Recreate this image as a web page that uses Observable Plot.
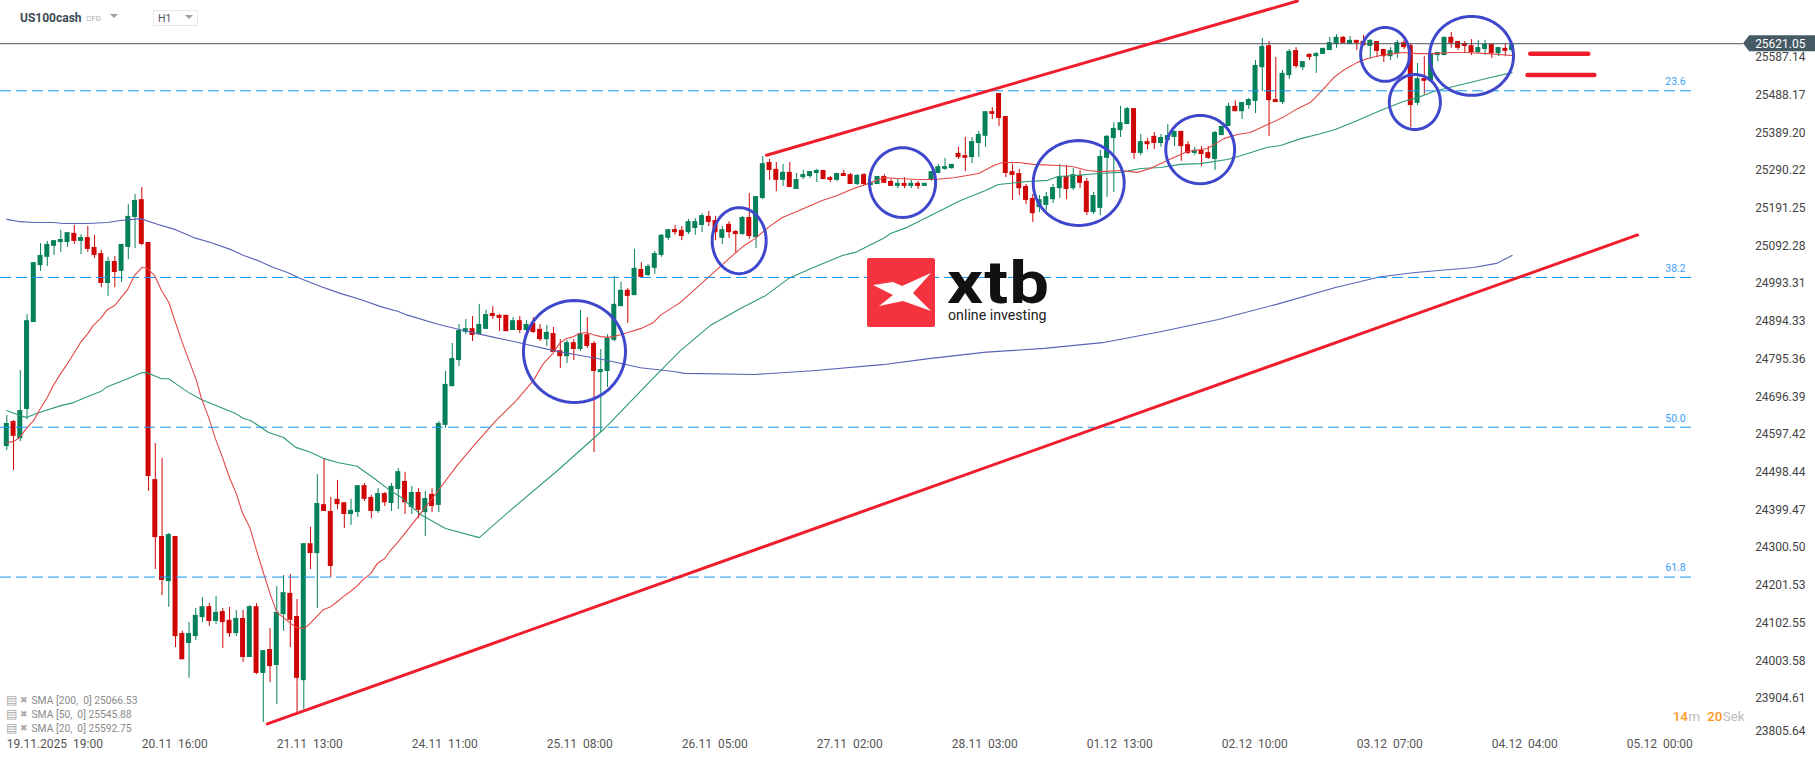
<!DOCTYPE html>
<html>
<head>
<meta charset="utf-8">
<script src="https://cdn.jsdelivr.net/npm/d3@7"></script>
<script src="https://cdn.jsdelivr.net/npm/@observablehq/plot@0.6"></script>
<style>
html,body{margin:0;padding:0;background:#fff;width:1815px;height:761px;overflow:hidden;font-family:Roboto,sans-serif}
#wrap{position:relative;width:1815px;height:761px}
svg text{white-space:pre}
.hd{position:absolute;white-space:pre}
</style>
</head>
<body>
<div id="wrap">
<div id="chart"></div>
<div class="hd" style="left:20px;top:11px;font:700 12px/15px Roboto;color:#3b4a54">US100cash</div>
<div class="hd" style="left:86px;top:13px;font:400 8px/12px Roboto;color:#a9adb0">CFD</div>
<div class="hd" style="left:110px;top:14px;width:0;height:0;border-left:4px solid transparent;border-right:4px solid transparent;border-top:4px solid #9a9fa3"></div>
<div class="hd" style="left:153px;top:10px;width:43px;height:14px;border:1px solid #e6e6e6;border-radius:2px"></div>
<div class="hd" style="left:158px;top:12px;font:400 10.5px/13px Roboto;color:#4a565e">H1</div>
<div class="hd" style="left:185px;top:15px;width:0;height:0;border-left:4px solid transparent;border-right:4px solid transparent;border-top:4px solid #9a9fa3"></div>
<svg class="hd" style="left:867px;top:258px" width="68" height="69" viewBox="0 0 68 69">
<rect width="68" height="69" rx="2" fill="#f4333f"/>
<polygon fill="#fff" points="6,27 26,24 35,28 64,15 46,35 64,53 36,43 12,48 26,37"/>
</svg>
<div class="hd" style="left:947px;top:260px;font:700 60px/46px Roboto;letter-spacing:1px;color:#111;transform:scaleX(1.18);transform-origin:left center">xtb</div>
<div class="hd" style="left:948px;top:307px;font:400 14.2px/17px Roboto;color:#222">online investing</div>
</div>
<script>
const opens = [24562,24628,24583,24660,24889,25039,25061,25090,25100,25100,
25124,25103,25113,25087,25071,24992,25050,25024,25087,25166,
25213,25100,24475,24325,24206,24325,24069,24043,24061,24111,
24140,24101,24127,24104,24069,24109,24006,24140,23964,24027,
23985,24119,24175,24114,23945,24306,24280,24409,24391,24423,
24414,24383,24388,24459,24428,24391,24438,24412,24449,24470,
24401,24441,24388,24436,24407,24618,24720,24789,24863,24873,
24857,24871,24913,24908,24908,24868,24894,24868,24887,24871,
24844,24860,24815,24799,24836,24818,24857,24834,24757,24760,
24842,24931,24974,24960,25029,25013,25032,25066,25111,25134,
25132,25126,25137,25145,25169,25158,25111,25148,25129,25121,
25166,25113,25216,25311,25293,25264,25285,25240,25271,25274,
25282,25290,25271,25264,25282,25279,25253,25279,25250,25253,
25274,25261,25248,25256,25248,25256,25248,25264,25282,25293,
25295,25335,25329,25324,25361,25380,25445,25493,25432,25287,
25282,25248,25216,25192,25198,25213,25242,25274,25242,25277,
25261,25179,25190,25322,25374,25395,25411,25453,25335,25366,
25380,25361,25369,25377,25393,25358,25335,25343,25337,25319,
25382,25406,25459,25445,25461,25472,25561,25619,25477,25469,
25540,25606,25561,25596,25590,25596,25606,25622,25641,25622,
25633,25630,25617,25630,25609,25590,25598,25627,25619,25467,
25532,25527,25593,25593,25641,25630,25625,25619,25601,25609,
25622,25598,25612,25606];
const highs = [24644,24631,24763,24910,25047,25097,25103,25105,25132,25126,
25145,25121,25142,25119,25079,25061,25063,25095,25200,25227,
25245,25100,24570,24531,24333,24325,24075,24098,24135,24164,
24148,24167,24135,24138,24130,24130,24143,24148,24024,24082,
24193,24222,24225,24159,24306,24349,24488,24528,24428,24473,
24414,24423,24459,24465,24433,24451,24441,24465,24504,24494,
24457,24451,24444,24451,24628,24760,24834,24884,24897,24905,
24937,24921,24931,24910,24908,24902,24905,24894,24902,24884,
24881,24876,24844,24842,24844,24921,24902,24839,24818,24857,
25010,24995,24979,25082,25047,25042,25076,25121,25134,25145,
25142,25161,25163,25176,25182,25169,25142,25155,25132,25169,
25229,25221,25327,25319,25311,25306,25311,25282,25290,25287,
25293,25290,25274,25282,25290,25282,25279,25282,25261,25274,
25279,25266,25269,25271,25264,25261,25256,25287,25306,25322,
25306,25351,25377,25377,25393,25445,25456,25493,25432,25306,
25293,25253,25227,25224,25232,25253,25306,25303,25295,25290,
25269,25232,25343,25382,25416,25459,25456,25453,25385,25374,
25390,25385,25411,25393,25393,25366,25351,25353,25353,25393,
25406,25467,25474,25469,25480,25580,25638,25630,25588,25554,
25609,25614,25577,25598,25601,25612,25641,25648,25643,25643,
25633,25646,25635,25630,25609,25614,25633,25633,25625,25572,
25590,25596,25601,25641,25654,25630,25630,25635,25633,25633,
25622,25614,25625,25627];
const lows = [24552,24499,24575,24633,24889,25024,25037,25066,25074,25087,
25095,25068,25074,25058,24981,24958,24981,24995,25055,25084,
25092,24444,24238,24169,24138,24032,24000,23951,24051,24098,
24088,24093,24030,24059,24061,23993,24006,23961,23835,23940,
23882,24075,24032,23861,23869,24238,24135,24391,24217,24396,
24346,24354,24375,24417,24372,24386,24404,24391,24396,24383,
24383,24372,24325,24388,24388,24610,24720,24773,24857,24839,
24857,24871,24897,24865,24865,24868,24860,24865,24860,24839,
24826,24810,24768,24781,24789,24813,24821,24546,24599,24718,
24839,24931,24887,24960,25008,25010,25016,25061,25105,25119,
25105,25121,25119,25126,25142,25105,25095,25111,25071,25119,
25108,25084,25213,25264,25234,25248,25245,25240,25266,25269,
25258,25266,25258,25261,25274,25253,25250,25250,25250,25253,
25256,25248,25242,25242,25242,25240,25248,25261,25282,25290,
25293,25319,25287,25308,25324,25351,25424,25406,25271,25211,
25224,25200,25153,25179,25184,25203,25216,25213,25237,25242,
25171,25174,25171,25219,25232,25377,25411,25319,25329,25345,
25345,25351,25369,25353,25314,25332,25329,25300,25319,25290,
25382,25406,25445,25424,25451,25440,25498,25380,25469,25464,
25530,25559,25554,25580,25546,25596,25606,25612,25625,25622,
25606,25619,25583,25588,25575,25580,25585,25609,25403,25461,
25490,25527,25577,25593,25612,25606,25601,25593,25596,25593,
25585,25590,25590,25601];
const closes = [24623,24589,24657,24894,25047,25066,25095,25105,25108,25126,
25103,25113,25082,25066,24992,25050,25021,25095,25169,25211,
25095,24483,24322,24209,24330,24061,24000,24069,24117,24140,
24101,24125,24098,24069,24109,24006,24140,23964,24024,23982,
24125,24177,24104,23951,24306,24280,24412,24391,24246,24409,
24383,24394,24459,24423,24391,24438,24414,24457,24496,24414,
24441,24394,24425,24404,24623,24726,24794,24868,24873,24855,
24884,24910,24905,24900,24865,24894,24868,24884,24863,24844,
24863,24810,24799,24836,24818,24860,24826,24760,24765,24847,
24937,24974,24958,25032,25008,25037,25071,25119,25134,25126,
25116,25155,25155,25171,25153,25126,25134,25126,25121,25166,
25116,25221,25308,25290,25264,25285,25245,25266,25279,25287,
25290,25266,25264,25282,25274,25253,25277,25253,25258,25274,
25256,25248,25256,25248,25256,25248,25256,25287,25300,25300,
25306,25324,25322,25366,25385,25445,25438,25427,25282,25277,
25242,25211,25176,25213,25221,25245,25274,25240,25279,25256,
25179,25224,25327,25380,25401,25416,25453,25335,25366,25358,
25361,25377,25382,25393,25353,25335,25343,25332,25322,25390,
25406,25459,25445,25469,25477,25567,25617,25474,25469,25546,
25604,25564,25577,25588,25598,25612,25627,25641,25625,25633,
25625,25619,25633,25604,25590,25606,25627,25614,25461,25532,
25525,25596,25601,25641,25625,25612,25617,25601,25614,25622,
25598,25614,25604,25621.05];

const sma20Bar = [0,1,1.9,2.9,4,4.8,5.9,6.9,8,9,9.9,10.9,12,12.8,13.9,14.9,16,16.8,17.9,18.9,20,20.8,21.9,22.9,24,25,26,27.1,28.1,28.8,29.9,30.9,32,33,34,34.9,36,37,38,39.1,40,41,41.9,42.9,44,44.8,45.9,46.9,48,48.8,49.9,50.9,52,52.8,53.9,54.9,56,56.8,57.9,60.7,63.7,66.6,69.6,72.5,75.5,78,79.5,81,81.9,82.9,84,84.8,85.9,86.9,88,89,89.9,90.9,92,93.9,95.8,96.8,98.8,99.8,107.2,109.1,110.9,112.8,114.9,117.3,120.8,123,125.4,127.7,129.9,132,135,137.3,140.3,144,146.2,147.5,149.9,152.1,155.7,158,160.1,162,165,167.5,169.4,171.9,174.9,177.9,180.3,182.3,184.2,186.8,189.1,191.2,193.1,194.6,196.6,198,200.1,201.6,203.5,205.4,206.9,209,211.4,213.9,216.4,219.4,223];
const sma20Val = [24573,24575,24586,24610,24631,24657,24689,24723,24755,24781,24807,24836,24860,24881,24900,24923,24934,24952,24976,25013,25034,25032,25013,24974,24942,24889,24836,24784,24736,24691,24639,24583,24531,24480,24438,24388,24349,24288,24230,24169,24125,24111,24098,24085,24082,24093,24114,24132,24140,24151,24167,24180,24196,24212,24227,24254,24267,24288,24309,24372,24441,24510,24573,24631,24684,24736,24781,24810,24834,24847,24852,24860,24863,24857,24852,24850,24852,24857,24863,24873,24889,24908,24931,24942,25061,25090,25111,25140,25166,25184,25211,25224,25242,25256,25271,25269,25266,25266,25271,25282,25303,25311,25311,25306,25303,25300,25290,25287,25290,25285,25295,25316,25340,25348,25374,25385,25390,25411,25430,25453,25469,25496,25535,25554,25575,25585,25593,25598,25601,25598,25598,25601,25601,25598,25593];

const sma50Bar = [0,1.9,2.9,4.8,8,9.9,12,13.9,14.9,17.9,20,20.8,22.9,24,25,26.9,28.8,33.9,35.1,36.1,38.8,41,42.8,44.7,46.9,49,51.9,54.3,56.8,58.3,61.3,65,70,74.6,81.6,88.4,95.4,99.8,104.2,108.7,112.4,115.8,118.8,123.8,125.7,129.9,130.9,133.4,135.4,141.3,145,146.9,151.2,154.2,155.7,158.6,161.6,165,168,170.9,173.9,176.8,180.8,182.8,186.8,188.7,191.7,194.6,196.8,200.1,203.5,206.9,209,211.4,214.9,216.8,219.8,223];
const sma50Val = [24657,24644,24639,24652,24670,24678,24694,24707,24720,24741,24757,24757,24741,24741,24728,24705,24686,24649,24636,24631,24599,24586,24560,24549,24531,24520,24510,24480,24446,24430,24383,24346,24322,24394,24499,24607,24736,24815,24881,24926,24960,25005,25029,25066,25074,25111,25124,25140,25158,25211,25237,25253,25261,25264,25274,25277,25282,25285,25295,25298,25306,25308,25319,25329,25351,25356,25374,25387,25398,25422,25448,25472,25482,25498,25514,25522,25535,25548];

const sma200Bar = [0,2,4,6.9,8.4,12,14.9,16.8,19.8,22.3,25,27.7,30.2,33.1,35.1,37.1,39.5,41.6,43.5,46.5,49.4,52.4,55.4,58,59.1,64,67.7,71.7,76.4,81,85,89,93.9,98.8,100.4,110.8,119.4,129.7,136.6,145.1,153.7,162.3,170.9,179.5,188.1,196.7,203.5,208.7,217.3,220.7,223];
const sma200Val = [25161,25155,25153,25153,25150,25150,25153,25158,25163,25148,25134,25113,25100,25082,25066,25053,25034,25021,25005,24984,24966,24950,24931,24918,24910,24884,24868,24852,24834,24815,24802,24789,24770,24760,24755,24752,24762,24778,24794,24811,24821,24836,24865,24897,24937,24981,25010,25021,25034,25045,25066];

const fibLevels = [25500,25008,24613,24218];
const fibLabels = ["23.6","38.2","50.0","61.8"];
const yTicks = [25587.14,25488.17,25389.20,25290.22,25191.25,25092.28,24993.31,24894.33,24795.36,24696.39,24597.42,24498.44,24399.47,24300.50,24201.53,24102.55,24003.58,23904.61,23805.64];
const xTickBars = [0,20,40,60,80,100,120,140,160,180,200,220,240];
const xTickLabels = ["19.11.2025  19:00","20.11  16:00","21.11  13:00","24.11  11:00","25.11  08:00","26.11  05:00","27.11  02:00","28.11  03:00","01.12  13:00","02.12  10:00","03.12  07:00","04.12  04:00","05.12  00:00"];
const lastPrice = 25621.05;

const circleBar = [84.1,108.5,132.7,158.8,176.8,204.2,208.6,217];
const circlePrice = [24812.7,25105,25258,25257,25345,25596,25470.5,25592];
const circleRBar = [7.56,4,4.9,6.74,5.1,3.63,3.78,6.22];
const circleRPrice = [134.5,87,92,112,90,71,72.5,104];

const trendLower = [{b:38.6,p:23831},{b:241.6,p:25120}];
const trendUpper = [{b:112.55,p:25330},{b:191.2,p:25736.8}];
const targetHigh = [{b:225.7,p:25598},{b:234.3,p:25598}];
const targetLow = [{b:225.3,p:25542},{b:235.2,p:25542}];

const legendLabels = ["SMA [200,  0] 25066.53","SMA [50,  0] 25545.88","SMA [20,  0] 25592.75"];
const legendPrices = [23893,23856,23819];

const GREEN = "#04805a", RED = "#cf0606";
const candles = opens.map((o,i)=>({i,o,h:highs[i],l:lows[i],c:closes[i]}));
const up = candles.filter(d=>d.c>=d.o), down = candles.filter(d=>d.c<d.o);
const series = (bars,vals)=>bars.map((b,k)=>({b,p:vals[k]}));
const circlePts = circleBar.flatMap((b,k)=>d3.range(0,73).map(a=>({k,
  b:b+circleRBar[k]*Math.cos(a*Math.PI/36),
  p:circlePrice[k]+circleRPrice[k]*Math.sin(a*Math.PI/36)})));
const hw = 0.37;
const bodyOpts = {x1:d=>d.i-hw,x2:d=>d.i+hw,y1:d=>Math.min(d.o,d.c),y2:d=>Math.max(d.o,d.c)};
const wickOpts = {x:"i",y1:"l",y2:"h",strokeWidth:1};
// The source's printed tick labels run on a slightly finer ruler than the price read from the candles.
const tickAt = d => d === 23805.64 ? 23813 : 25488.7 - (25488.17 - d) * 1.00442;
const lastAt = tickAt(lastPrice) + 2;
const tag = [{b:257.3,t:lastAt,u:lastAt},{b:258.2,t:lastAt-21,u:lastAt+21},{b:268,t:lastAt-21,u:lastAt+21}];

const plot = Plot.plot({
  width:1815,height:761,margin:0,
  style:{fontFamily:"Roboto, sans-serif",background:"#fff",overflow:"visible"},
  x:{domain:[-0.9333,267.956],range:[0,1815],axis:null},
  y:{domain:[23731.8,25738.1],range:[761,0],axis:null},
  marks:[
    Plot.ruleX(up,{...wickOpts,stroke:GREEN}),
    Plot.ruleX(down,{...wickOpts,stroke:RED}),
    Plot.rect(up,{...bodyOpts,fill:GREEN}),
    Plot.rect(down,{...bodyOpts,fill:RED}),
    Plot.line(series(sma200Bar,sma200Val),{x:"b",y:"p",stroke:"#5a62b5",strokeWidth:1.1}),
    Plot.line(series(sma50Bar,sma50Val),{x:"b",y:"p",stroke:"#2e9a76",strokeWidth:1.1}),
    Plot.line(series(sma20Bar,sma20Val),{x:"b",y:"p",stroke:"#e24747",strokeWidth:1.1}),
    Plot.ruleY(fibLevels,{x1:()=>-0.9333,x2:()=>249.6,stroke:"#1596f5",strokeWidth:1,strokeDasharray:"11 5"}),
    Plot.text(fibLabels,{x:()=>245.7,y:(d,i)=>fibLevels[i],dy:-9,textAnchor:"start",fontSize:10.5,fill:"#3aa0f5"}),
    Plot.ruleY([lastAt],{x1:()=>-0.9333,x2:()=>257.3,stroke:"#46545e",strokeWidth:1}),
    Plot.line(trendLower,{x:"b",y:"p",stroke:"#f01e2c",strokeWidth:3}),
    Plot.line(trendUpper,{x:"b",y:"p",stroke:"#f01e2c",strokeWidth:3}),
    Plot.line(targetHigh,{x:"b",y:"p",stroke:"#f01e2c",strokeWidth:4.5,strokeLinecap:"round"}),
    Plot.line(targetLow,{x:"b",y:"p",stroke:"#f01e2c",strokeWidth:4.5,strokeLinecap:"round"}),
    Plot.line(circlePts,{x:"b",y:"p",z:"k",stroke:"#3f48cc",strokeWidth:3}),
    Plot.text(yTicks,{y:tickAt,text:d=>d3.format(".2f")(d),frameAnchor:"right",dx:-10,textAnchor:"end",fontSize:12,fill:"#444"}),
    Plot.areaY(tag,{x:"b",y1:"t",y2:"u",fill:"#455a64"}),
    Plot.text([lastPrice],{y:()=>lastAt,text:d=>d3.format(".2f")(d),frameAnchor:"right",dx:-10,textAnchor:"end",fontSize:12,fill:"#fff"}),
    Plot.text(xTickLabels,{x:(d,i)=>xTickBars[i],frameAnchor:"bottom",lineAnchor:"middle",dy:-17,textAnchor:"start",fontSize:12,fill:"#555"}),
    Plot.text(legendLabels,{x:()=>3.65,y:(d,i)=>legendPrices[i],textAnchor:"start",fontSize:10.3,fill:"#8a8a8a"}),
    Plot.text(legendLabels,{x:()=>0.7,y:(d,i)=>legendPrices[i],text:()=>"▤",textAnchor:"middle",fontSize:12,fill:"#aaaaaa"}),
    Plot.text(legendLabels,{x:()=>2.6,y:(d,i)=>legendPrices[i],text:()=>"✖",textAnchor:"middle",fontSize:9,fill:"#aaaaaa"}),
    Plot.text(["14"],{x:()=>246.8,y:()=>23851,textAnchor:"start",fontSize:13.5,fontWeight:500,fill:"#ff9a1f"}),
    Plot.text(["m"],{x:()=>249.1,y:()=>23851,textAnchor:"start",fontSize:13.5,fill:"#bdbdbd"}),
    Plot.text(["20"],{x:()=>251.9,y:()=>23851,textAnchor:"start",fontSize:13.5,fontWeight:500,fill:"#ff9a1f"}),
    Plot.text(["Sek"],{x:()=>254.2,y:()=>23851,textAnchor:"start",fontSize:13.5,fill:"#bdbdbd"})
  ]
});
document.getElementById("chart").appendChild(plot);
</script>
</body>
</html>
